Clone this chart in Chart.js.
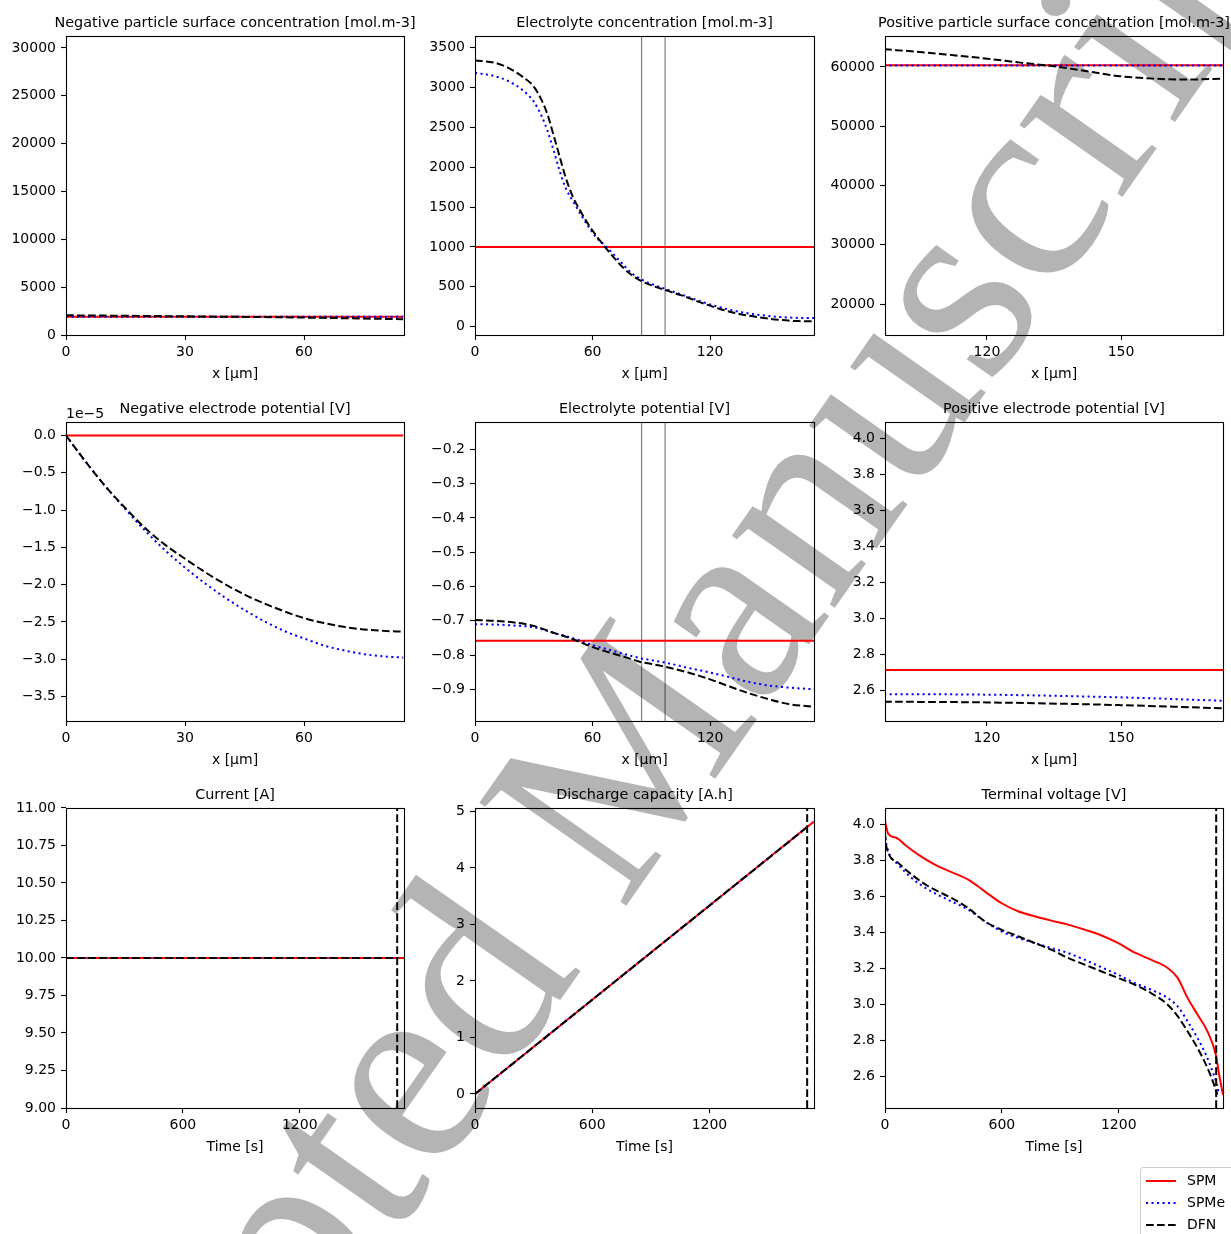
<!DOCTYPE html>
<html>
<head>
<meta charset="utf-8">
<script src="https://cdn.jsdelivr.net/npm/chart.js@4.4.1/dist/chart.umd.min.js"></script>
<style>
  html, body { margin: 0; padding: 0; background: #fff; }
  body { width: 1231px; height: 1234px; position: relative; overflow: hidden; font-family: 'DejaVu Sans', sans-serif; }
  #watermark {
    position: absolute; left: 588px; top: 800px;
    transform: translate(-50%, -50%) rotate(-55deg);
    font-family: 'Liberation Serif', serif; font-size: 274px; line-height: 1;
    color: #b4b4b4; white-space: nowrap; z-index: 0;
  }
  canvas { position: absolute; z-index: 1; }
  #legend {
    position: absolute; left: 1140px; top: 1167px; width: 110px; height: 80px;
    border: 1px solid #d0d0d0; border-radius: 3px; background: rgba(255,255,255,0.8);
    z-index: 2; font-size: 14px; color: #000;
  }
  #legend svg { position: absolute; left: 5px; }
  #legend span { position: absolute; left: 46px; line-height: 17px; }
</style>
</head>
<body>
<div id="watermark">Accepted Manuscript</div>
<div id="legend">
  <svg style="top:11px" width="30" height="4"><line x1="0" y1="2" x2="30" y2="2" stroke="#ff0000" stroke-width="2"/></svg><span style="top:4px">SPM</span>
  <svg style="top:33px" width="30" height="4"><line x1="0" y1="2" x2="30" y2="2" stroke="#0000ff" stroke-width="2" stroke-dasharray="2.1 3.4"/></svg><span style="top:26px">SPMe</span>
  <svg style="top:55px" width="30" height="4"><line x1="0" y1="2" x2="30" y2="2" stroke="#000" stroke-width="2" stroke-dasharray="7.7 3.3"/></svg><span style="top:48px">DFN</span>
</div>
<script>
// ---- data ----
// negative particle surface concentration [mol.m-3] vs x [um]
const negCsX = [0, 20, 40, 60, 85];
const negCsSPM = [1920, 1920, 1920, 1920, 1920];
const negCsSPMe = [1915, 1915, 1915, 1915, 1915];
const negCsDFN = [2060, 1990, 1910, 1820, 1650];

// electrolyte concentration [mol.m-3]
const elecX = [0, 10, 17, 24, 30, 34, 37, 40, 43, 46, 50, 54, 58, 62, 66, 70, 75, 80, 85, 91, 97, 105, 115, 125, 135, 145, 155, 165, 173];
const elecSPM = [1000, 1000, 1000, 1000, 1000, 1000, 1000, 1000, 1000, 1000, 1000, 1000, 1000, 1000, 1000, 1000, 1000, 1000, 1000, 1000, 1000, 1000, 1000, 1000, 1000, 1000, 1000, 1000, 1000];
const elecSPMe = [3183, 3142, 3078, 2972, 2822, 2640, 2457, 2220, 1970, 1754, 1574, 1407, 1251, 1116, 1027, 927, 795, 672, 592, 527, 475, 407, 319, 243, 186, 148, 123, 110, 108];
const elecDFN = [3337, 3310, 3245, 3138, 3010, 2840, 2660, 2410, 2150, 1892, 1625, 1442, 1277, 1137, 1010, 891, 754, 648, 572, 510, 460, 396, 305, 222, 160, 117, 87, 70, 68];

// positive particle surface concentration [mol.m-3]
const posCsX = [97, 105, 112.6, 120, 127.5, 135, 142.4, 149.8, 157.3, 164.7, 173];
const posCsSPM = [60280, 60280, 60280, 60280, 60280, 60280, 60280, 60280, 60280, 60280, 60280];
const posCsSPMe = [60260, 60260, 60260, 60260, 60260, 60260, 60260, 60260, 60260, 60260, 60260];
const posCsDFN = [62980, 62530, 61970, 61400, 60730, 60110, 59270, 58430, 58030, 57870, 58030];

// negative electrode potential [V], in units of 1e-5
const negPhiX = [0, 5, 10, 15, 20, 25, 30, 35, 40, 45, 50, 55, 60, 65, 70, 75, 80, 85];
const negPhiSPM = [0, 0, 0, 0, 0, 0, 0, 0, 0, 0, 0, 0, 0, 0, 0, 0, 0, 0];
const negPhiSPMe = [0, -0.355, -0.686, -0.99, -1.28, -1.54, -1.77, -1.98, -2.17, -2.34, -2.49, -2.62, -2.72, -2.815, -2.88, -2.93, -2.96, -2.977];
const negPhiDFN = [0, -0.355, -0.686, -0.975, -1.243, -1.466, -1.652, -1.83, -1.99, -2.133, -2.252, -2.357, -2.448, -2.514, -2.565, -2.6, -2.619, -2.629];

// electrolyte potential [V]
const elecPhiX = [0, 10, 20, 30, 40, 50, 60, 70, 80, 85, 90, 97, 110, 120, 130, 140, 150, 160, 173];
const elecPhiSPM = [-0.758, -0.758, -0.758, -0.758, -0.758, -0.758, -0.758, -0.758, -0.758, -0.758, -0.758, -0.758, -0.758, -0.758, -0.758, -0.758, -0.758, -0.758, -0.758];
const elecPhiSPMe = [-0.710, -0.711, -0.714, -0.719, -0.735, -0.751, -0.771, -0.787, -0.803, -0.810, -0.815, -0.822, -0.839, -0.851, -0.865, -0.879, -0.889, -0.895, -0.900];
const elecPhiDFN = [-0.698, -0.700, -0.705, -0.715, -0.735, -0.754, -0.777, -0.795, -0.812, -0.821, -0.826, -0.834, -0.853, -0.871, -0.892, -0.912, -0.929, -0.943, -0.951];

// positive electrode potential [V]
const posPhiX = [97, 120, 150, 173];
const posPhiSPM = [2.7146, 2.7146, 2.7146, 2.7146];
const posPhiSPMe = [2.581, 2.578, 2.563, 2.544];
const posPhiDFN = [2.539, 2.535, 2.520, 2.502];

// time series
const tEndSPM = [0, 1735];
const tEndSPMe = [0, 1711];
const tEndDFN = [0, 1706];
const currentSPM = [10, 10];
const currentSPMe = [10, 10];
const currentDFN = [10, 10];
const capacitySPM = [0, 4.82];
const capacitySPMe = [0, 4.753];
const capacityDFN = [0, 4.739];

const voltTimeSPM = [0, 17, 60, 102, 171, 256, 341, 427, 512, 597, 683, 768, 853, 939, 1024, 1109, 1195, 1280, 1365, 1451, 1502, 1553, 1604, 1655, 1698, 1715, 1735];
const voltSPM = [4.019, 3.949, 3.926, 3.889, 3.834, 3.778, 3.737, 3.695, 3.63, 3.565, 3.519, 3.491, 3.467, 3.445, 3.417, 3.386, 3.343, 3.291, 3.25, 3.204, 3.149, 3.038, 2.945, 2.852, 2.723, 2.612, 2.50];
const voltTimeSPMe = [0, 3, 17, 68, 137, 222, 341, 427, 512, 597, 683, 768, 853, 939, 1024, 1109, 1195, 1280, 1365, 1451, 1502, 1553, 1604, 1647, 1681, 1706, 1711];
const voltSPMe = [3.96, 3.92, 3.852, 3.778, 3.704, 3.639, 3.574, 3.528, 3.463, 3.408, 3.371, 3.343, 3.315, 3.287, 3.25, 3.209, 3.167, 3.121, 3.084, 3.037, 2.991, 2.908, 2.815, 2.723, 2.63, 2.547, 2.52];
const voltTimeDFN = [0, 3, 17, 68, 137, 222, 341, 427, 512, 597, 683, 768, 853, 939, 1024, 1109, 1195, 1280, 1365, 1451, 1502, 1553, 1604, 1655, 1689, 1706];
const voltDFN = [3.955, 3.91, 3.843, 3.788, 3.723, 3.658, 3.593, 3.537, 3.463, 3.417, 3.38, 3.343, 3.306, 3.26, 3.223, 3.186, 3.149, 3.112, 3.065, 3.0, 2.936, 2.852, 2.76, 2.649, 2.556, 2.50];

const timeMarker = 1700;
const separatorX = [85, 97];

// tick labels
const xTicksNeg = [0, 30, 60];
const xTicksCell = [0, 60, 120];
const xTicksPos = [120, 150];
const xTicksTime = [0, 600, 1200];
const yTicksNegCs = [0, 5000, 10000, 15000, 20000, 25000, 30000];
const yTicksElec = [0, 500, 1000, 1500, 2000, 2500, 3000, 3500];
const yTicksPosCs = [20000, 30000, 40000, 50000, 60000];
const yTicksNegPhi = [-3.5, -3.0, -2.5, -2.0, -1.5, -1.0, -0.5, 0.0];
const yTicksElecPhi = [-0.9, -0.8, -0.7, -0.6, -0.5, -0.4, -0.3, -0.2];
const yTicksPosPhi = [2.6, 2.8, 3.0, 3.2, 3.4, 3.6, 3.8, 4.0];
const yTicksCurrent = [9.0, 9.25, 9.5, 9.75, 10.0, 10.25, 10.5, 10.75, 11.0];
const yTicksCapacity = [0, 1, 2, 3, 4, 5];
const yTicksVolt = [2.6, 2.8, 3.0, 3.2, 3.4, 3.6, 3.8, 4.0];

// ---- layout ----
const AXIS_W = 62;   // room each side of a plot (left one holds the y labels)
const TITLE_H = 40;  // room above each plot for the title
const XAXIS_H = 50;  // room below each plot for x labels + title
const COLS = [[66, 404], [475, 814], [885, 1223]];
const ROWS = [[36, 335], [422, 721], [808, 1108]];

Chart.defaults.font.family = "'DejaVu Sans', sans-serif";
Chart.defaults.font.size = 14;
Chart.defaults.color = '#000';

const STYLES = {
    SPM: { borderColor: '#ff0000', borderWidth: 2, order: 2 },
    SPMe: { borderColor: '#0000ff', borderWidth: 2, borderDash: [2.1, 3.4], order: 1 },
    DFN: { borderColor: '#000000', borderWidth: 2, borderDash: [7.7, 3.3], order: 0 },
    sep: { borderColor: 'rgba(0,0,0,0.5)', borderWidth: 1.2, order: 3, cubicInterpolationMode: 'default' },
    marker: { borderColor: '#000000', borderWidth: 2, borderDash: [7.7, 3.3], order: 0, cubicInterpolationMode: 'default' }
};

function series(xs, ys, style) {
    return Object.assign({
        data: xs.map((x, i) => ({ x: x, y: ys[i] })),
        pointRadius: 0,
        fill: false,
        borderCapStyle: 'butt',
        cubicInterpolationMode: 'monotone'
    }, STYLES[style]);
}

function fmt(v, d) {
    return v.toFixed(d).replace('-', '\u2212');
}

function scale(axis, min, max, ticks, decimals, title) {
    const s = {
        type: 'linear',
        min: min,
        max: max,
        afterBuildTicks: sc => { sc.ticks = ticks.map(v => ({ value: v })); },
        ticks: {
            color: '#000', padding: axis === 'x' ? 3.5 : 5,
            autoSkip: false, maxRotation: 0,
            callback: v => fmt(v, decimals)
        },
        grid: { drawOnChartArea: false, drawTicks: true, tickLength: 5, tickColor: '#000', tickWidth: 1.1 },
        border: { display: false },
        afterFit: sc => { if (axis === 'x') sc.height = XAXIS_H; else sc.width = AXIS_W; }
    };
    if (title) {
        s.title = { display: true, text: title, color: '#000', padding: { top: 0, bottom: 2 } };
    }
    return s;
}

// empty axis on the right so the plot sits in the middle of its canvas
const spacer = {
    type: 'linear', position: 'right', min: 0, max: 1,
    ticks: { display: false }, grid: { display: false }, border: { display: false },
    afterFit: sc => { sc.width = AXIS_W; }
};

// full box round the plot area, like matplotlib spines
const framePlugin = {
    id: 'frame',
    afterDatasetsDraw(chart) {
        const a = chart.chartArea;
        const ctx = chart.ctx;
        ctx.save();
        ctx.strokeStyle = '#000';
        ctx.lineWidth = 1.1;
        const l = Math.round(a.left) + 0.5, t = Math.round(a.top) + 0.5;
        ctx.strokeRect(l, t, Math.round(a.right) - Math.round(a.left), Math.round(a.bottom) - Math.round(a.top));
        ctx.restore();
    }
};

function makeChart(col, row, title, xScale, yScale, datasets, plugins) {
    const [L, R] = COLS[col];
    const [T, B] = ROWS[row];
    const w = R - L + 2 * AXIS_W;
    const h = B - T + TITLE_H + XAXIS_H;
    const c = document.createElement('canvas');
    c.width = w; c.height = h;
    c.style.left = (L - AXIS_W) + 'px';
    c.style.top = (T - TITLE_H) + 'px';
    c.style.width = w + 'px';
    c.style.height = h + 'px';
    document.body.appendChild(c);
    return new Chart(c, {
        type: 'line',
        data: { datasets: datasets },
        options: {
            responsive: false,
            animation: false,
            devicePixelRatio: 1,
            layout: { padding: 0 },
            plugins: {
                legend: { display: false },
                tooltip: { enabled: false },
                title: { display: true, text: title, color: '#000', font: { size: 14.4, weight: 'normal' }, padding: { top: 18.2, bottom: 4.5 } }
            },
            scales: { x: xScale, y: yScale, y2: spacer }
        },
        plugins: [framePlugin].concat(plugins || [])
    });
}

function vline(x, lo, hi, style) {
    return series([x, x], [lo, hi], style);
}

const XLAB = 'x [\u03bcm]';
const TLAB = 'Time [s]';

// row 1
makeChart(0, 0, 'Negative particle surface concentration [mol.m-3]',
    scale('x', 0, 85.2, xTicksNeg, 0, XLAB),
    scale('y', 0, 31250, yTicksNegCs, 0),
    [series(negCsX, negCsSPM, 'SPM'), series(negCsX, negCsSPMe, 'SPMe'), series(negCsX, negCsDFN, 'DFN')]);

makeChart(1, 0, 'Electrolyte concentration [mol.m-3]',
    scale('x', 0, 173, xTicksCell, 0, XLAB),
    scale('y', -104, 3645, yTicksElec, 0),
    [vline(separatorX[0], -104, 3645, 'sep'), vline(separatorX[1], -104, 3645, 'sep'),
     series(elecX, elecSPM, 'SPM'), series(elecX, elecSPMe, 'SPMe'), series(elecX, elecDFN, 'DFN')]);

makeChart(2, 0, 'Positive particle surface concentration [mol.m-3]',
    scale('x', 97.2, 172.8, xTicksPos, 0, XLAB),
    scale('y', 14775, 65225, yTicksPosCs, 0),
    [series(posCsX, posCsSPM, 'SPM'), series(posCsX, posCsSPMe, 'SPMe'), series(posCsX, posCsDFN, 'DFN')]);

// row 2
const offsetText = {
    id: 'offsetText',
    afterDraw(chart) {
        const ctx = chart.ctx;
        ctx.save();
        ctx.font = "14px 'DejaVu Sans'";
        ctx.fillStyle = '#000';
        ctx.textBaseline = 'alphabetic';
        ctx.fillText('1e\u22125', chart.chartArea.left, chart.chartArea.top - 4);
        ctx.restore();
    }
};
makeChart(0, 1, 'Negative electrode potential [V]',
    scale('x', 0, 85.2, xTicksNeg, 0, XLAB),
    scale('y', -3.827, 0.181, yTicksNegPhi, 1),
    [series(negPhiX, negPhiSPM, 'SPM'), series(negPhiX, negPhiSPMe, 'SPMe'), series(negPhiX, negPhiDFN, 'DFN')],
    [offsetText]);

makeChart(1, 1, 'Electrolyte potential [V]',
    scale('x', 0, 173, xTicksCell, 0, XLAB),
    scale('y', -0.9925, -0.12, yTicksElecPhi, 1),
    [vline(separatorX[0], -0.9925, -0.12, 'sep'), vline(separatorX[1], -0.9925, -0.12, 'sep'),
     series(elecPhiX, elecPhiSPM, 'SPM'), series(elecPhiX, elecPhiSPMe, 'SPMe'), series(elecPhiX, elecPhiDFN, 'DFN')]);

makeChart(2, 1, 'Positive electrode potential [V]',
    scale('x', 97.2, 172.8, xTicksPos, 0, XLAB),
    scale('y', 2.432, 4.09, yTicksPosPhi, 1),
    [series(posPhiX, posPhiSPM, 'SPM'), series(posPhiX, posPhiSPMe, 'SPMe'), series(posPhiX, posPhiDFN, 'DFN')]);

// row 3
makeChart(0, 2, 'Current [A]',
    scale('x', 0, 1735, xTicksTime, 0, TLAB),
    scale('y', 9, 11, yTicksCurrent, 2),
    [series(tEndSPM, currentSPM, 'SPM'), series(tEndSPMe, currentSPMe, 'SPMe'), series(tEndDFN, currentDFN, 'DFN'),
     vline(timeMarker, 9, 11, 'marker')]);

makeChart(1, 2, 'Discharge capacity [A.h]',
    scale('x', 0, 1735, xTicksTime, 0, TLAB),
    scale('y', -0.248, 5.06, yTicksCapacity, 0),
    [series(tEndSPM, capacitySPM, 'SPM'), series(tEndSPMe, capacitySPMe, 'SPMe'), series(tEndDFN, capacityDFN, 'DFN'),
     vline(timeMarker, -0.248, 5.06, 'marker')]);

makeChart(2, 2, 'Terminal voltage [V]',
    scale('x', 0, 1735, xTicksTime, 0, TLAB),
    scale('y', 2.426, 4.093, yTicksVolt, 1),
    [series(voltTimeSPM, voltSPM, 'SPM'), series(voltTimeSPMe, voltSPMe, 'SPMe'), series(voltTimeDFN, voltDFN, 'DFN'),
     vline(timeMarker, 2.426, 4.093, 'marker')]);
</script>
</body>
</html>
